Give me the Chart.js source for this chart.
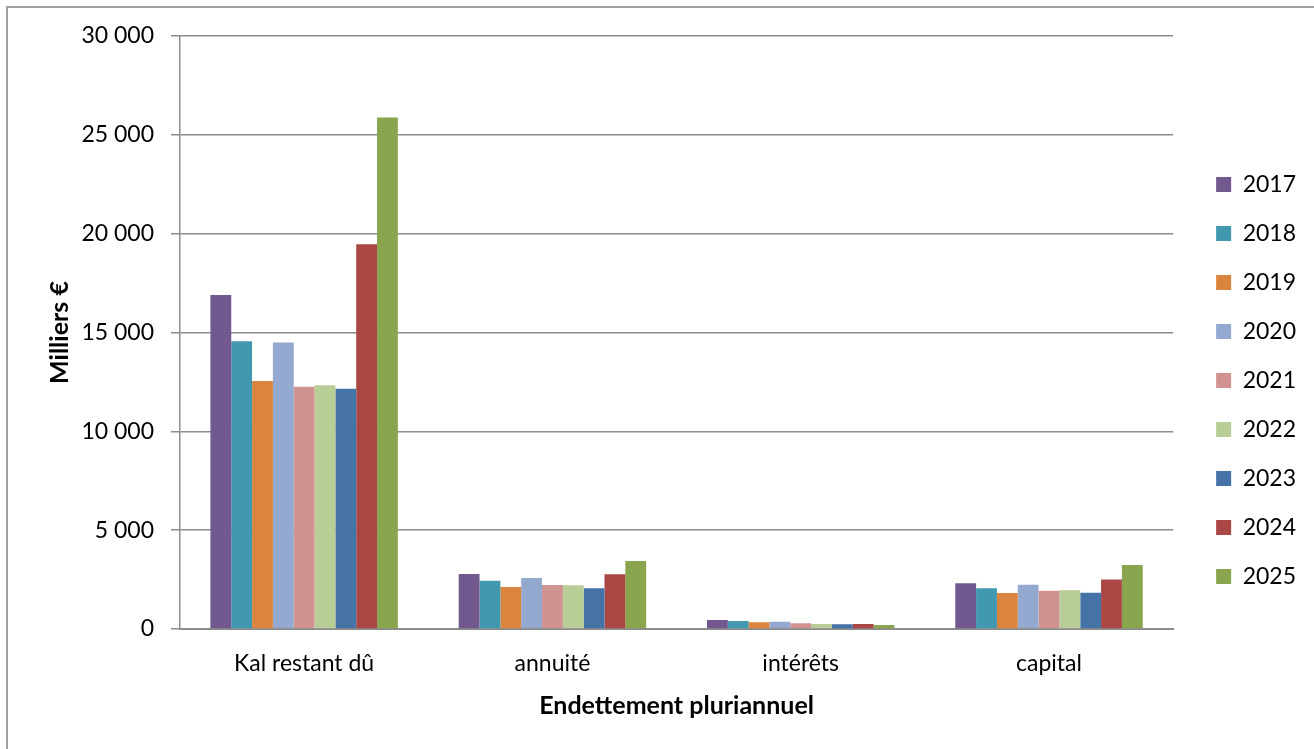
<!DOCTYPE html>
<html>
<head>
<meta charset="utf-8">
<script src="https://cdn.jsdelivr.net/npm/chart.js@4.4.1/dist/chart.umd.min.js"></script>
<style>
    body { margin: 0; background: #fff; }
    #frame { position: absolute; left: 6px; top: 6px; width: 1320px; height: 760px; border: 2px solid #a0a0a0; }
    #wrap { position: absolute; left: 0; top: 0; width: 1314px; height: 749px; }
</style>
</head>
<body>
<div id="frame"></div>
<div id="wrap"><canvas id="endettement"></canvas></div>
<script>
///////////////// data //////////////////////
var categories = ['Kal restant dû', 'annuité', 'intérêts', 'capital'];
var years = ['2017', '2018', '2019', '2020', '2021', '2022', '2023', '2024', '2025'];
var v2017 = [16900, 2780, 455, 2310];
var v2018 = [14560, 2440, 405, 2060];
var v2019 = [12550, 2125, 340, 1820];
var v2020 = [14500, 2580, 370, 2240];
var v2021 = [12250, 2220, 290, 1940];
var v2022 = [12330, 2210, 255, 1960];
var v2023 = [12150, 2060, 240, 1840];
var v2024 = [19460, 2770, 255, 2500];
var v2025 = [25880, 3440, 200, 3240];
var yTicks = [0, 5000, 10000, 15000, 20000, 25000, 30000];

var colors = ['#71588F', '#4198AF', '#DB843D', '#93A9CF', '#D19392', '#B9CD96', '#4572A7', '#AA4643', '#89A54E'];
var series = [v2017, v2018, v2019, v2020, v2021, v2022, v2023, v2024, v2025];

var datasets = [];
for (var i = 0; i < years.length; i++) {
    datasets.push({
        label: years[i],
        data: series[i],
        backgroundColor: colors[i],
        borderWidth: 0,
        barPercentage: 1,
        categoryPercentage: 0.755
    });
}

// "30 000" style
function spaced(v) {
    return String(v).replace(/\B(?=(\d{3})+(?!\d))/g, ' ');
}

// nudge the legend a bit to the right, like the original
var legendShift = {
    id: 'legendShift',
    afterLayout: function (chart) {
        chart.legend.left += 17;
        chart.legend.right += 17;
    }
};

Chart.defaults.font.family = "Lato, 'Open Sans', sans-serif";
Chart.defaults.color = '#000';

/////////////// chart ///////////////////////
var ctx = document.getElementById('endettement').getContext('2d');
var chart = new Chart(ctx, {
    type: 'bar',
    data: { labels: categories, datasets: datasets },
    plugins: [legendShift],
    options: {
        responsive: true,
        maintainAspectRatio: false,
        animation: false,
        layout: { padding: { left: 30, top: 36, right: 25, bottom: 24 } },
        plugins: {
            tooltip: { enabled: false },
            legend: {
                position: 'right',
                labels: {
                    boxWidth: 15,
                    boxHeight: 15,
                    padding: 26,
                    font: { size: 23 }
                }
            }
        },
        scales: {
            x: {
                grid: { display: false, drawTicks: false },
                border: { color: '#8c8c8c', width: 2 },
                ticks: { font: { size: 23 }, padding: 21 },
                title: {
                    display: true,
                    text: 'Endettement pluriannuel',
                    font: { size: 25, weight: 'bold' },
                    padding: { top: 12 }
                },
                afterFit: function (scale) { scale.height = 96; }
            },
            y: {
                min: 0,
                max: 30000,
                afterBuildTicks: function (scale) {
                    scale.ticks = yTicks.map(function (v) { return { value: v }; });
                },
                grid: { color: '#8c8c8c', lineWidth: 1.5, tickLength: 9 },
                border: { color: '#8c8c8c', width: 1.5 },
                ticks: {
                    font: { size: 23 },
                    padding: 17,
                    callback: function (v) { return spaced(v); }
                },
                title: {
                    display: true,
                    text: 'Milliers €',
                    font: { size: 25, weight: 'bold' },
                    padding: { top: 15, bottom: 10 }
                },
                afterFit: function (scale) { scale.width = 150; }
            }
        }
    }
});
</script>
</body>
</html>
